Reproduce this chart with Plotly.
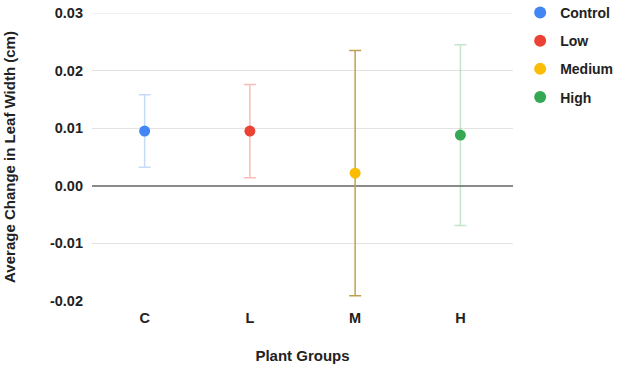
import plotly.graph_objects as go

categories = ["C", "L", "M", "H"]
series_names = ["Control", "Low", "Medium", "High"]
means = [0.0095, 0.0095, 0.0022, 0.0088]
errors = [0.0063, 0.0081, 0.0213, 0.0157]
y_ticks = [-0.02, -0.01, 0.00, 0.01, 0.02, 0.03]
y_tick_text = ["-0.02", "-0.01", "0.00", "0.01", "0.02", "0.03"]

marker_colors = ["#4285F4", "#EA4335", "#FBBC04", "#34A853"]
error_colors = ["rgba(66,133,244,0.3)", "rgba(234,67,53,0.35)", "#BFA050", "rgba(52,168,83,0.3)"]

font_family = "Arial, Liberation Sans, sans-serif"
txt = "#222222"
grid_color = "#E3E3E3"

fig = go.Figure()
for i, name in enumerate(series_names):
    fig.add_trace(go.Scatter(
        x=[categories[i]], y=[means[i]], name=name, mode="markers",
        legendgroup=name,
        marker=dict(color=marker_colors[i], size=11),
        error_y=dict(type="data", array=[errors[i]], visible=True,
                     color=error_colors[i], thickness=1.5, width=6),
    ))

# Plotly skips the gridline lying on the plot's top edge; draw it from the top tick value
fig.add_shape(type="line", xref="paper", yref="y", x0=0, x1=1,
              y0=y_ticks[-1], y1=y_ticks[-1], layer="below",
              line=dict(color=grid_color, width=1.2))

fig.update_layout(
    width=619, height=370,
    margin=dict(l=92, r=106, t=13, b=69, autoexpand=False),
    paper_bgcolor="white", plot_bgcolor="white",
    font=dict(family=font_family, size=14.5, color=txt),
    showlegend=True,
    legend=dict(x=1.017, y=1.056, xanchor="left", yanchor="top",
                font=dict(family=font_family, size=14, color=txt, weight="bold"),
                tracegroupgap=7, itemsizing="constant"),
    xaxis=dict(
        categoryorder="array", categoryarray=categories,
        range=[-0.5, 3.5], showgrid=False, zeroline=False, showline=False,
        automargin=False, ticklabelstandoff=6,
        tickfont=dict(family=font_family, size=14.5, color=txt, weight="bold"),
        title=dict(text="Plant Groups", standoff=25,
                   font=dict(family=font_family, size=15, color=txt, weight="bold")),
    ),
    yaxis=dict(
        range=[-0.02, 0.03], tickvals=y_ticks, ticktext=y_tick_text,
        showgrid=True, gridcolor=grid_color, gridwidth=1.2,
        zeroline=True, zerolinecolor="#8A8A8A", zerolinewidth=1.5,
        showline=False, automargin=False, ticklabelstandoff=8,
        ticklabeloverflow="allow",
        tickfont=dict(family=font_family, size=14.5, color=txt, weight="bold"),
        title=dict(text="Average Change in Leaf Width (cm)", standoff=30,
                   font=dict(family=font_family, size=15, color=txt, weight="bold")),
    ),
)

# remove the browser's default 8px body margin so the figure fills the window exactly
fig.write_html("out.html",
               config={"displayModeBar": False},
               post_script="document.body.style.margin='0';document.body.style.overflow='hidden';")
